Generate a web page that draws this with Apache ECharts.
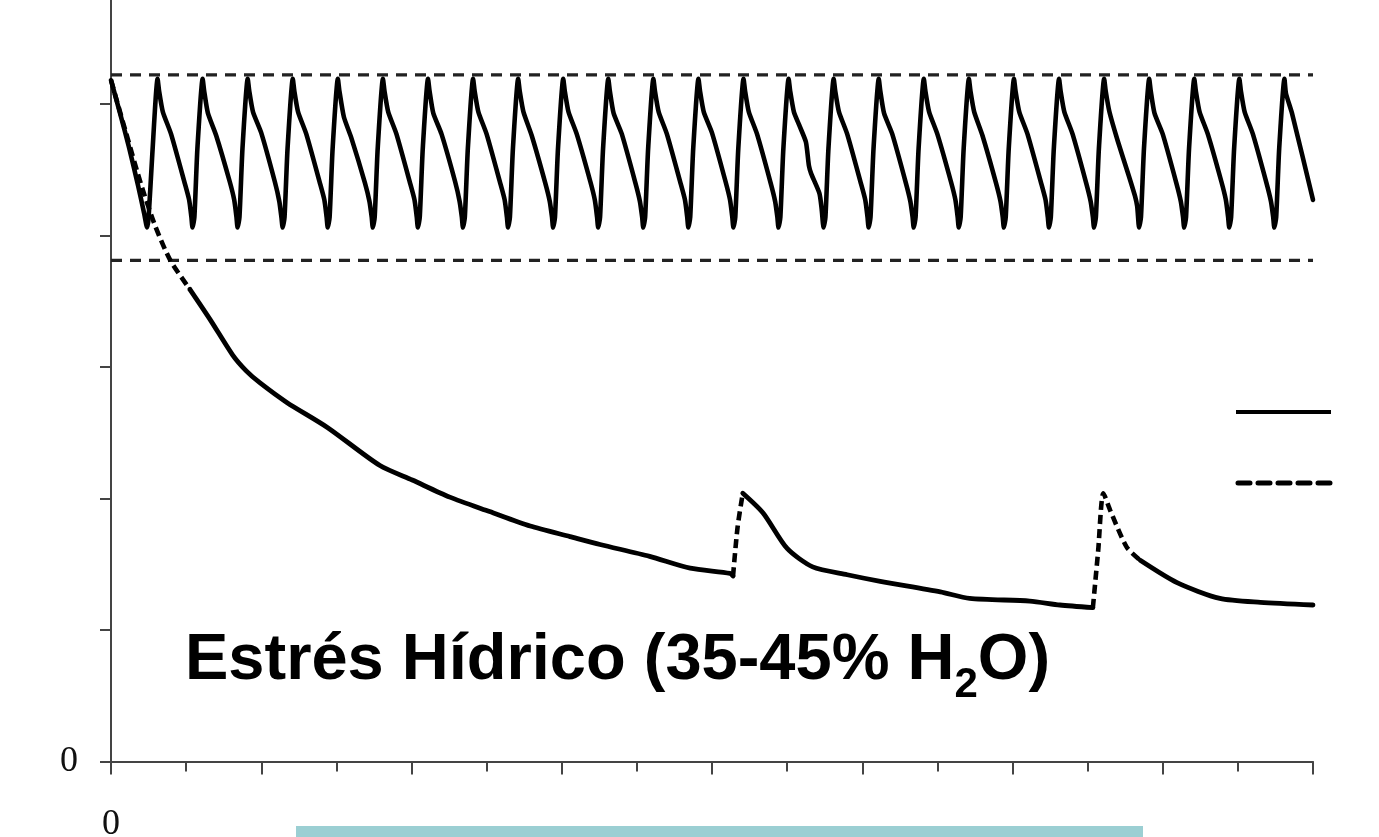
<!DOCTYPE html>
<html><head><meta charset="utf-8">
<script src="https://cdn.jsdelivr.net/npm/echarts@6/dist/echarts.min.js"></script>
<style>html,body{margin:0;padding:0;background:#fff}#c{width:1379px;height:837px}</style>
</head><body><div id="c"></div>
<script>
// ---------- data (x in axis units 0..16, y in axis units) ----------
const xLabelValues = [0];
const yLabelValues = [0];
const yTickValues = [0, 1, 2, 3, 4, 5];
const limitX = [0, 16];
const upperLimit = 5.22;
const lowerLimit = 3.81;

// well-watered cycling curve (solid sawtooth)
const sawtooth = [
 [0,5.18],[0.12,4.93],[0.24,4.67],[0.36,4.38],[0.44,4.17],[0.47,4.08],[0.48,4.06],[0.50,4.13],[0.55,4.62],
 [0.62,5.19],[0.64,5.10],[0.69,4.94],[0.80,4.77],[0.98,4.40],[1.04,4.27],[1.07,4.14],[1.085,4.06],[1.11,4.14],[1.15,4.66],
 [1.22,5.19],[1.24,5.10],[1.29,4.93],[1.40,4.76],[1.58,4.41],[1.64,4.27],[1.67,4.14],[1.685,4.06],[1.71,4.14],[1.75,4.66],
 [1.82,5.19],[1.84,5.10],[1.89,4.94],[2.00,4.78],[2.18,4.41],[2.24,4.26],[2.27,4.13],[2.285,4.06],[2.31,4.14],[2.35,4.66],
 [2.42,5.19],[2.44,5.10],[2.49,4.94],[2.60,4.77],[2.78,4.40],[2.84,4.27],[2.87,4.14],[2.885,4.06],[2.91,4.14],[2.95,4.66],
 [3.02,5.19],[3.04,5.10],[3.10,4.90],[3.20,4.74],[3.38,4.40],[3.44,4.26],[3.47,4.14],[3.485,4.06],[3.51,4.14],[3.55,4.66],
 [3.62,5.19],[3.64,5.10],[3.69,4.94],[3.80,4.77],[3.98,4.40],[4.04,4.27],[4.07,4.14],[4.085,4.06],[4.11,4.14],[4.15,4.66],
 [4.22,5.19],[4.24,5.10],[4.29,4.93],[4.40,4.77],[4.58,4.41],[4.64,4.26],[4.67,4.14],[4.685,4.06],[4.71,4.14],[4.75,4.66],
 [4.82,5.19],[4.84,5.10],[4.89,4.94],[5.00,4.77],[5.18,4.40],[5.24,4.27],[5.27,4.14],[5.285,4.06],[5.31,4.14],[5.35,4.66],
 [5.42,5.19],[5.44,5.10],[5.49,4.94],[5.60,4.76],[5.78,4.40],[5.84,4.26],[5.87,4.14],[5.885,4.06],[5.91,4.14],[5.95,4.66],
 [6.02,5.19],[6.04,5.10],[6.09,4.94],[6.20,4.77],[6.38,4.41],[6.44,4.27],[6.47,4.14],[6.485,4.06],[6.51,4.14],[6.55,4.66],
 [6.62,5.19],[6.64,5.10],[6.69,4.93],[6.80,4.77],[6.98,4.40],[7.04,4.26],[7.07,4.14],[7.085,4.06],[7.11,4.14],[7.15,4.66],
 [7.22,5.19],[7.24,5.10],[7.29,4.94],[7.40,4.77],[7.58,4.40],[7.64,4.27],[7.67,4.14],[7.685,4.06],[7.71,4.14],[7.75,4.66],
 [7.82,5.19],[7.84,5.10],[7.89,4.94],[8.00,4.78],[8.18,4.41],[8.24,4.27],[8.27,4.14],[8.285,4.06],[8.31,4.14],[8.35,4.66],
 [8.42,5.19],[8.44,5.10],[8.49,4.94],[8.60,4.77],[8.78,4.40],[8.84,4.26],[8.87,4.14],[8.885,4.06],[8.91,4.14],[8.95,4.66],
 [9.02,5.19],[9.04,5.10],[9.09,4.94],[9.16,4.84],[9.25,4.71],[9.29,4.53],[9.32,4.47],[9.43,4.32],[9.46,4.20],[9.485,4.06],[9.51,4.14],[9.55,4.66],
 [9.62,5.19],[9.64,5.10],[9.69,4.94],[9.80,4.77],[9.98,4.40],[10.04,4.27],[10.07,4.14],[10.085,4.06],[10.11,4.14],[10.15,4.66],
 [10.22,5.19],[10.24,5.10],[10.29,4.93],[10.40,4.77],[10.58,4.40],[10.64,4.26],[10.67,4.14],[10.685,4.06],[10.71,4.14],[10.75,4.66],
 [10.82,5.19],[10.84,5.10],[10.89,4.94],[11.00,4.77],[11.18,4.41],[11.24,4.27],[11.27,4.14],[11.285,4.06],[11.31,4.14],[11.35,4.66],
 [11.42,5.19],[11.44,5.10],[11.49,4.94],[11.60,4.76],[11.78,4.40],[11.84,4.26],[11.87,4.14],[11.885,4.06],[11.91,4.14],[11.95,4.66],
 [12.02,5.19],[12.04,5.10],[12.09,4.94],[12.20,4.77],[12.38,4.40],[12.44,4.27],[12.47,4.14],[12.485,4.06],[12.51,4.14],[12.55,4.66],
 [12.62,5.19],[12.64,5.10],[12.69,4.94],[12.80,4.77],[12.98,4.40],[13.04,4.26],[13.07,4.14],[13.085,4.06],[13.11,4.14],[13.15,4.66],
 [13.22,5.19],[13.24,5.10],[13.29,4.94],[13.40,4.72],[13.55,4.45],[13.63,4.30],[13.66,4.22],[13.685,4.06],[13.71,4.14],[13.75,4.66],
 [13.82,5.19],[13.84,5.10],[13.89,4.93],[14.00,4.77],[14.18,4.40],[14.24,4.26],[14.27,4.14],[14.285,4.06],[14.31,4.14],[14.35,4.66],
 [14.42,5.19],[14.44,5.10],[14.49,4.94],[14.60,4.77],[14.78,4.41],[14.84,4.27],[14.87,4.14],[14.885,4.06],[14.91,4.14],[14.95,4.66],
 [15.02,5.19],[15.04,5.10],[15.09,4.94],[15.20,4.77],[15.38,4.40],[15.44,4.26],[15.47,4.14],[15.485,4.06],[15.51,4.14],[15.55,4.66],
 [15.62,5.19],[15.64,5.08],[15.72,4.93],[16.00,4.27]
];

// water-stress curve, split into its dashed and solid stretches
const stressDashA = [[0,5.18],[0.19,4.80],[0.41,4.37],[0.59,4.07],[0.79,3.81],[1.05,3.59]];
const stressSolidA = [[1.05,3.59],[1.32,3.36],[1.62,3.09],[1.80,2.97],[1.98,2.88],[2.34,2.73],[2.88,2.54],[3.58,2.25],[4.01,2.14],[4.51,2.01],[5.04,1.90],[5.58,1.79],[6.11,1.71],[6.51,1.65],[7.17,1.56],[7.71,1.47],[8.24,1.43],[8.28,1.41]];
const stressDashB = [[8.28,1.41],[8.34,1.78],[8.41,2.04]];
const stressSolidB = [[8.41,2.04],[8.68,1.89],[9.00,1.62],[9.34,1.48],[9.80,1.42],[10.24,1.37],[11.04,1.29],[11.43,1.24],[12.23,1.22],[12.63,1.19],[13.07,1.17]];
const stressDashC = [[13.07,1.17],[13.14,1.60],[13.21,2.04],[13.30,1.91],[13.52,1.63],[13.70,1.53]];
const stressSolidC = [[13.70,1.53],[14.19,1.36],[14.76,1.24],[15.30,1.21],[16.00,1.19]];

// ---------- chart ----------
const chart = echarts.init(document.getElementById('c'), null, {renderer: 'canvas'});
const axisColor = '#444';
const ink = '#000';
function solid(data) {
  return {type: 'line', data: data, symbol: 'none', showSymbol: false, silent: true, z: 4,
    smooth: 0.25,
    lineStyle: {color: ink, width: 4.8, join: 'round', cap: 'round'}};
}
function dashed(data) {
  return {type: 'line', data: data, symbol: 'none', showSymbol: false, silent: true, z: 4,
    smooth: 0.25,
    lineStyle: {color: ink, width: 4.6, type: [9, 5], join: 'round'}};
}
const option = {
  animation: false,
  backgroundColor: '#fff',
  grid: {left: 111, right: 66, top: 0, bottom: 75.5, containLabel: false, outerBoundsMode: 'none'},
  xAxis: {
    type: 'value', min: 0, max: 16, interval: 2,
    axisLine: {show: true, onZero: false, lineStyle: {color: axisColor, width: 2}},
    axisTick: {show: true, length: 13, lineStyle: {color: axisColor, width: 2}},
    minorTick: {show: true, splitNumber: 2, length: 10, lineStyle: {color: axisColor, width: 2}},
    splitLine: {show: false}, minorSplitLine: {show: false},
    axisLabel: {customValues: xLabelValues, formatter: v => String(v), margin: 45,
      fontFamily: 'Liberation Serif', fontSize: 36, color: '#111'}
  },
  yAxis: {
    type: 'value', min: 0, max: 5.79, interval: 1,
    axisLine: {show: true, onZero: false, lineStyle: {color: axisColor, width: 2}},
    axisTick: {show: true, length: 11, customValues: yTickValues, lineStyle: {color: axisColor, width: 2}},
    splitLine: {show: false},
    axisLabel: {customValues: yLabelValues, formatter: v => String(v), margin: 33,
      fontFamily: 'Liberation Serif', fontSize: 36, color: '#111'}
  },
  series: [
    {type: 'line', data: limitX.map(x => [x, upperLimit]), symbol: 'none', silent: true, z: 2,
      lineStyle: {color: '#222', width: 3.2, type: [11, 8]}},
    {type: 'line', data: limitX.map(x => [x, lowerLimit]), symbol: 'none', silent: true, z: 2,
      lineStyle: {color: '#222', width: 3.2, type: [11, 8]}},
    {type: 'line', data: sawtooth, symbol: 'none', showSymbol: false, silent: true, z: 3,
      smooth: 0.2,
      lineStyle: {color: ink, width: 4.6, join: 'round', cap: 'round'}},
    dashed(stressDashA), solid(stressSolidA),
    dashed(stressDashB), solid(stressSolidB),
    dashed(stressDashC), solid(stressSolidC)
  ],
  graphic: [
    {type: 'text', left: 185, top: 629, z: 10,
      style: {
        text: '{a|Estrés Hídrico (35-45% H}{b|2}{a|O)}',
        rich: {
          a: {fontFamily: 'Liberation Sans', fontWeight: 'bold', fontSize: 65, lineHeight: 80, padding: [0, 0, 12, 0], verticalAlign: 'bottom', fill: '#000'},
          b: {fontFamily: 'Liberation Sans', fontWeight: 'bold', fontSize: 42, lineHeight: 8, verticalAlign: 'bottom', fill: '#000'}
        }
      }},
    {type: 'line', shape: {x1: 1236, y1: 412, x2: 1331, y2: 412}, style: {stroke: '#000', lineWidth: 4}},
    {type: 'line', shape: {x1: 1238, y1: 483, x2: 1330, y2: 483}, style: {stroke: '#000', lineWidth: 5, lineDash: [12, 8], lineCap: 'round'}},
    {type: 'rect', shape: {x: 296, y: 826, width: 847, height: 11}, style: {fill: '#9bcfd3'}}
  ]
};
chart.setOption(option);
</script></body></html>
